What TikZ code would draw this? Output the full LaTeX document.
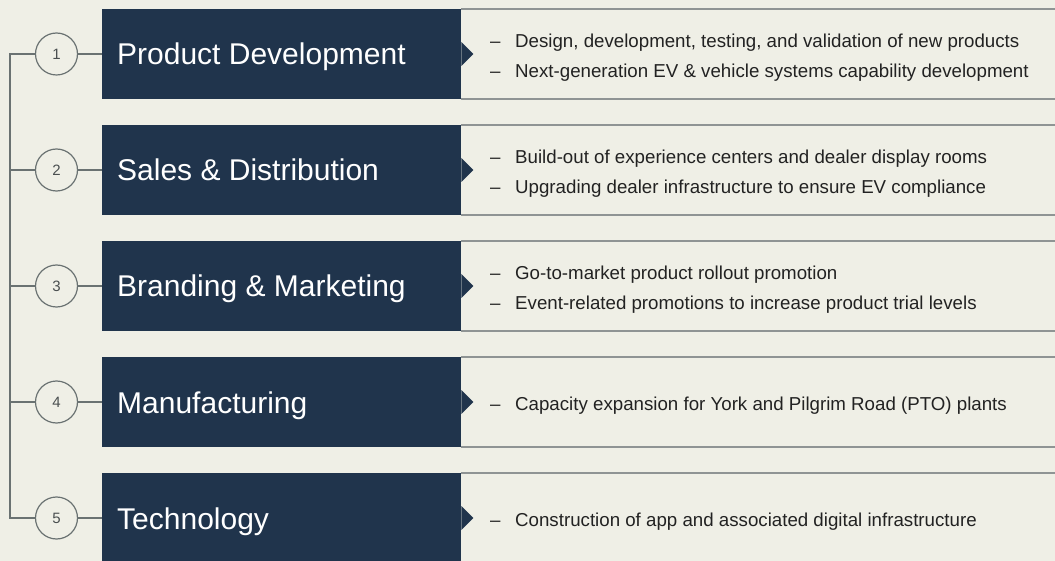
\documentclass[tikz,border=0pt]{standalone}
\usepackage{fontspec}
\setmainfont{Liberation Sans}
\definecolor{bg}{HTML}{EFEFE6}
\definecolor{navy}{HTML}{20344C}
\definecolor{panelrule}{HTML}{8F9494}
\definecolor{conn}{HTML}{6A7272}
\definecolor{txt}{HTML}{222222}
\definecolor{numtxt}{HTML}{4A4F50}
\tikzset{
  darkbox/.style={fill=navy, draw=none, minimum width=359pt, minimum height=90pt, inner sep=0pt, anchor=west},
  chev/.style={fill=navy, draw=none},
  numcirc/.style={circle, draw=conn, line width=1.2pt, fill=bg, minimum size=42pt, inner sep=0pt, font=\fontsize{15}{15}\selectfont, text=numtxt},
  connline/.style={draw=conn, line width=1.5pt},
  prule/.style={draw=panelrule, line width=1.6pt},
  title/.style={text=white, font=\fontsize{30}{30}\selectfont, anchor=base west, inner sep=0pt},
  item/.style={text=txt, font=\fontsize{18.7}{18.7}\selectfont, anchor=base west, inner sep=0pt}
}
\newcommand{\itm}[1]{\makebox[25pt][l]{–}#1}
\begin{document}
\begin{tikzpicture}[x=1pt,y=-1pt]
\fill[bg] (0,0) rectangle (1055,561);
\useasboundingbox (0,0) rectangle (1055,561);
\foreach \i/\t in {1/Product Development,2/Sales \& Distribution,3/Branding \& Marketing,4/Manufacturing,5/Technology}{
  \pgfmathsetmacro{\cy}{54+116*(\i-1)}
  \node[darkbox] (box\i) at (102,\cy) {};
  \fill[chev] ([yshift=12pt]box\i.east) -- ++(12,12) -- ++(-12,12) -- cycle;
  \draw[prule] (box\i.north east) -- ++(594,0);
  \draw[prule] (box\i.south east) -- ++(594,0);
  \node[numcirc] (c\i) at (56.5,\cy) {\i};
  \coordinate (s\i) at (10,\cy);
  \draw[connline] (s\i) -- (c\i);
  \draw[connline] (c\i) -- (box\i.west);
  \node[title] (t\i) at (117,\cy+11) {\t};
}
\draw[connline, line cap=rect] (s1) -- (s5);
% items
\node[item] (i1a) at (490,47.7) {\itm{Design, development, testing, and validation of new products}};
\node[item] (i1b) at (490,77.3) {\itm{Next-generation EV \& vehicle systems capability development}};
\node[item] (i2a) at (490,163.7) {\itm{Build-out of experience centers and dealer display rooms}};
\node[item] (i2b) at (490,193.3) {\itm{Upgrading dealer infrastructure to ensure EV compliance}};
\node[item] (i3a) at (490,279.7) {\itm{Go-to-market product rollout promotion}};
\node[item] (i3b) at (490,309.3) {\itm{Event-related promotions to increase product trial levels}};
\node[item] (i4a) at (490,410.5) {\itm{Capacity expansion for York and Pilgrim Road (PTO) plants}};
\node[item] (i5a) at (490,526.5) {\itm{Construction of app and associated digital infrastructure}};
\end{tikzpicture}
\end{document}
